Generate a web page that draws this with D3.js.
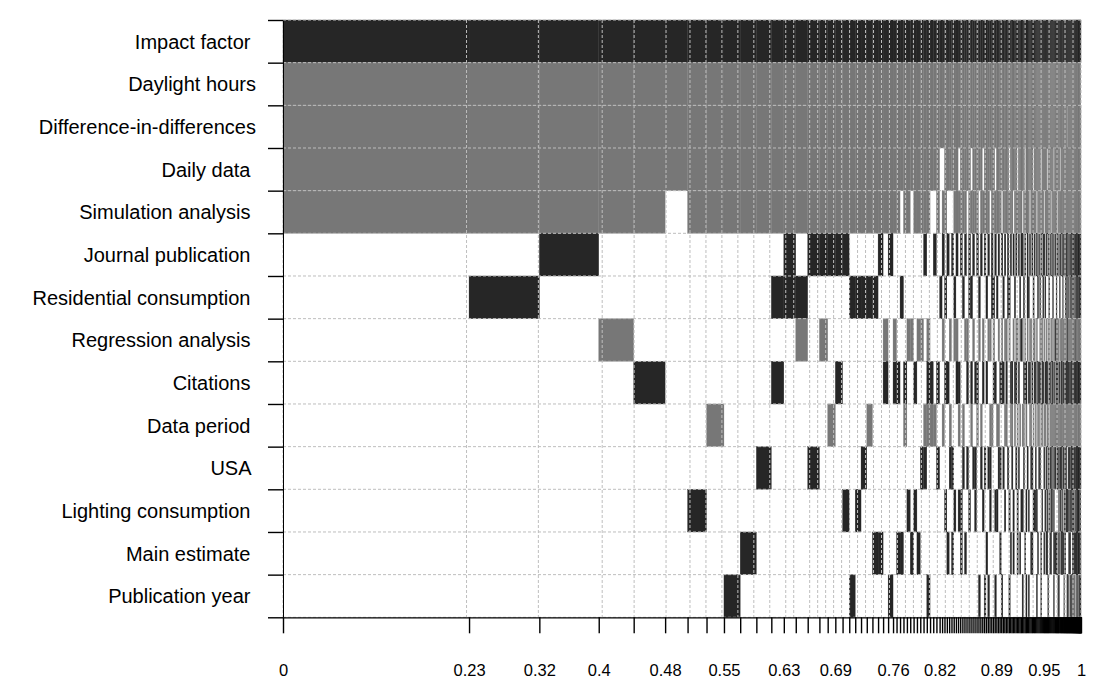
<!DOCTYPE html>
<html>
<head>
<meta charset="utf-8">
<script src="https://cdn.jsdelivr.net/npm/d3@7"></script>
<style>
  body { margin: 0; background: #fff; }
  svg text { font-family: "Liberation Sans", Arial, sans-serif; white-space: pre; }
</style>
</head>
<body>
<div id="vis"></div>
<script>
// variables, top to bottom (trailing spaces as in the original labels)
var variables = [
    "Impact factor ", "Daylight hours", "Difference-in-differences", "Daily data ",
    "Simulation analysis ", "Journal publication ", "Residential consumption ",
    "Regression analysis ", "Citations ", "Data period ", "USA ",
    "Lighting consumption ", "Main estimate ", "Publication year "
];

var tickLabels = ["0", "0.23", "0.32", "0.4", "0.48", "0.55", "0.63", "0.69", "0.76", "0.82", "0.89", "0.95", "1"];

// posterior model probabilities (percent), best model first
var pmp = [
    23.37, 8.83, 7.46, 4.39, 3.95, 2.82, 2.38, 2.19, 2.04, 2.03,
    1.88, 1.57, 1.50, 1.50, 1.47, 1.04, 0.96, 0.91, 0.84, 0.75,
    0.73, 0.72, 0.71, 0.71, 0.63, 0.63, 0.62,
    0.44, 0.44, 0.43, 0.43, 0.42, 0.42, 0.42, 0.42, 0.41, 0.41, 0.41, 0.40, 0.40, 0.40,
    0.31,
    0.30, 0.30, 0.29, 0.29, 0.28, 0.28, 0.27, 0.27, 0.27, 0.26,
    0.26, 0.26, 0.25, 0.25, 0.25, 0.25, 0.24, 0.24, 0.24, 0.23,
    0.23, 0.23, 0.22, 0.22, 0.22, 0.21, 0.21, 0.21, 0.20, 0.20,
    0.20, 0.19, 0.19, 0.19, 0.19,
    0.17, 0.17, 0.17, 0.17, 0.17, 0.17, 0.16, 0.16, 0.16, 0.16,
    0.16, 0.16, 0.15, 0.15, 0.15, 0.15, 0.15, 0.15, 0.15, 0.14,
    0.14, 0.14, 0.14, 0.14, 0.14,
    0.13, 0.13, 0.13, 0.13, 0.13, 0.13, 0.12, 0.12, 0.12, 0.12,
    0.12, 0.12, 0.12, 0.11, 0.11, 0.11, 0.11, 0.11, 0.11, 0.10,
    0.10, 0.10, 0.10, 0.10, 0.10,
    0.08, 0.08, 0.08, 0.08, 0.08, 0.07, 0.07, 0.07, 0.07, 0.07,
    0.07, 0.07, 0.07, 0.06, 0.06, 0.06, 0.06, 0.06, 0.06, 0.06,
    0.05, 0.05, 0.05, 0.05, 0.05,
    0.04, 0.04, 0.04, 0.04, 0.04, 0.04, 0.04, 0.04, 0.03, 0.03,
    0.03, 0.03, 0.03, 0.03, 0.03, 0.03, 0.03, 0.03, 0.03, 0.03
];

// inclusion per model, one char per variable: + positive, - negative, 0 not included
var models = [
    "+----000000000", "+----0+0000000", "+----+00000000", "+----00-000000", "+----000+00000",
    "+---0000000000", "+----000000+00", "+----0000-0000", "+----00000000+", "+----0000000+0",
    "+----00000+000", "+----0+0+00000", "+----++0000000", "+----0+-000000", "+----+0000+000",
    "+----+0-000000", "+----+000-0000", "+----+00+00000", "+----+00000+00", "+----0+000000+",
    "+----0+0000+00", "+----0+000+000", "+----0+00-0000", "+----0+00000+0", "+----+000000+0",
    "+----00-+00000", "+----+0000000+",
    "+----00-+00000", "+----000+000+0", "+---00+00000+0", "+----000+-0000", "+----00-000+00",
    "+---000-0000+0", "+----000+00+00", "+----00-0000+0", "+----00-00+000", "+----+000-+000",
    "+----00-+-000+", "+---0000+-0000", "+---0+000-0000", "+----000+0+000",
    "+--000+0000000",
    "+--0-+0-0-0000", "+----0+0+00+00", "+---0+00+000+0", "+---000-0-+000", "+---0+0000+0+0",
    "+----0+-000+00", "+----+0-+00000", "+--0-000+-0+00", "+----+00000++0", "+----0+00-+000",
    "+----+0-0000+0", "+---000-+0+000", "+----++0000+00", "+--0-0+0+-0000", "+----+0-00+000",
    "+----000+0++00", "+----+00+-0000", "+---00+-00000+", "+----+000-+000", "+--0-00-+00+00",
    "+----+0000+00+", "+----0+0+000+0", "+----+0-00+00+", "+---000-0-++00", "+----++00-0000",
    "+----0+-+00000", "+--0-+00+00+0+", "+----0+00-0+00", "+----+0-0-+000", "+----000+0+0+0",
    "+---0+0-+0000+", "+----0+0+0+000", "+----+0-0-0+00", "+----00-+-0000", "+----++000+000",
    "+--0-0+-000+0+", "+----+00+-00+0", "+----000+-+000", "+---0+0-000++0", "+----0+0+-0000",
    "+----+0-+0+000", "+--0-00-0-0++0", "+----+00+0+000", "+----0+-0-00+0", "+----+0+000+00",
    "+---0+0-0-0+0+", "+----0+0+-+000", "+--0-+0-+000+0", "+----000+-0+0+", "+----++-00+000",
    "+----0+0+00+0+", "+---0+0-+-0000", "+----00-0-+0+0", "+----+00+0+0+0", "+--0-0+-0-0+00",
    "+----+0-+00+00", "+----000+-++00", "+---0+0-000+0+", "+----0+0+-00+0", "+----+00+-+000",
    "+----0+-+0+000", "+--0-+0-0-00++", "+----00-+-0+00", "+----++0+00000", "+---0+0-0-+0+0",
    "+----0+0+-0+00", "+----+0-+0+0+0", "+--0-000+-0++0", "+----+0-0-+00+", "+----0+-+00+00",
    "+----+00+-+0+0", "+---000-0-+++0", "+----+0-+-0+00", "+----0+0+-+000", "+--0-+0-0-0+++",
    "+----00-+-+0+0", "+----+0+0-+0+0", "+----0+-+-00+0", "+---0+0-+-+000", "+----00-0-+0++",
    "+----+0-+-0+0+", "+----0+0+-+0+0", "+--0-+0-0-++00", "+----00-+-+0+0", "+----+0-+-0++0",
    "+----0+-0-+0+0", "+----+0-+-+0+0", "+----00-+-0+0+", "+----+0-0-+++0", "+----0+-+-+0+0",
    "+----++-+-0+00", "+----+0-+-++00", "+-0--0+-+-0+0+", "+----+0++-0+0+", "+----0+-+-++00",
    "+----+0-+-+0++", "+----00-+-+++0", "+----++-0-+0+0", "+----+0-+-0+++", "+----0+-+-++0+",
    "+----+0-+-++0+", "+----++-+-+000", "+----+0-0-++++", "+----0+-+-+++0", "+----+0-+-++-0",
    "+----++-0-0+++", "+----+0++-+0+0", "+----0+-+-+0++", "+----+0-+-+++0", "+----++-+-0++0",
    "+----+0-+-+0+-", "+----0+++-+0+0", "+----++-+-+0+0", "+----+0-+-++++", "+----++-0-+++0",
    "+----+0-+0++++", "+----++-+-++00", "+----0+-+-++++", "+0---+0-+-+0+0", "+----++-+-+0++",
    "+----+0-+-+++-", "+-0--++-0-+0+0", "+----++-+-+++0", "+----+0++-++0+", "+----++-+-0+++",
    "+----0+-+-+-++", "+----++-+-++0+", "+----++++-++0+", "+----++-+-++++", "+0---++-+-+0++"
];

var margin = { top: 20, left: 283 },
    width = 798,
    height = 597.3;

var svg = d3.select("#vis")
    .append("svg")
    .attr("width", 1116)
    .attr("height", 684);

var g = svg.append("g")
    .attr("transform", "translate(" + margin.left + "," + margin.top + ")");

// cumulative model probabilities, scaled to 1
var total = d3.sum(pmp);
var cum = [0];
pmp.forEach(p => cum.push(cum[cum.length - 1] + p / total));

var x = d3.scaleLinear().domain([0, 1]).range([0, width]);
var y = d3.scaleBand().domain(variables).range([0, height]);
var yEdge = d3.scaleLinear().domain([0, variables.length]).range([0, height]);

var fill = { "+": "#262626", "-": "#777777" };

var cells = [];
models.forEach((m, i) => {
    m.split("").forEach((c, j) => {
        if (c !== "0") cells.push({ i: i, v: variables[j], c: c });
    });
});

g.selectAll(".cell")
    .data(cells)
    .enter().append("rect")
    .attr("class", "cell")
    .attr("x", d => x(cum[d.i]))
    .attr("width", d => x(cum[d.i + 1]) - x(cum[d.i]))
    .attr("y", d => y(d.v))
    .attr("height", y.bandwidth())
    .attr("fill", d => fill[d.c])
    .attr("stroke", d => fill[d.c])
    .attr("stroke-width", 0.3);

// dotted grid at rounded cumulative probabilities and row edges
var gridX = Array.from(new Set(cum.map(c => Math.round(c * 100) / 100)));
g.selectAll(".vgrid")
    .data(gridX)
    .enter().append("line")
    .attr("class", "vgrid")
    .attr("x1", d => x(d)).attr("x2", d => x(d))
    .attr("y1", 0).attr("y2", height)
    .attr("stroke", "#bebebe")
    .attr("stroke-dasharray", "3,2");

g.selectAll(".hgrid")
    .data(d3.range(variables.length + 1))
    .enter().append("line")
    .attr("class", "hgrid")
    .attr("x1", 0).attr("x2", width)
    .attr("y1", d => yEdge(d)).attr("y2", d => yEdge(d))
    .attr("stroke", "#bebebe")
    .attr("stroke-dasharray", "3,2");

// x axis: a tick at every model boundary
var xAxis = g.append("g")
    .attr("transform", "translate(0," + height + ")")
    .call(d3.axisBottom(x).tickValues(cum).tickSize(16).tickSizeOuter(0).tickFormat(""));
xAxis.selectAll("line").attr("stroke", "#000").attr("stroke-width", 1.4);
xAxis.select(".domain").attr("stroke", "#000").attr("stroke-width", 1.2);

// labelled boundaries
var labelPos = tickLabels.map(t => {
    var v = +t;
    var cand = cum.filter(c => Math.round(c * 100) / 100 === v);
    return d3.least(cand, c => Math.abs(c - v - 0.003));
});
var xLab = g.append("g")
    .attr("transform", "translate(0," + height + ")")
    .call(d3.axisBottom(x).tickValues(labelPos).tickSize(0).tickPadding(46.5)
        .tickFormat((d, i) => tickLabels[i]));
xLab.select(".domain").remove();
xLab.attr("font-size", 16.5).attr("font-family", "Liberation Sans, Arial, sans-serif");
xLab.selectAll("text").attr("fill", "#000");

// y axis: ticks at row edges
var yAxis = g.append("g")
    .call(d3.axisLeft(yEdge).tickValues(d3.range(variables.length + 1))
        .tickSize(15).tickSizeOuter(0).tickFormat(""));
yAxis.selectAll("line").attr("stroke", "#000").attr("stroke-width", 1.4);
yAxis.select(".domain").attr("stroke", "#000");

g.selectAll(".rowlab")
    .data(variables)
    .enter().append("text")
    .attr("class", "rowlab")
    .attr("x", -27)
    .attr("y", d => y(d) + y.bandwidth() / 2 + 7.5)
    .attr("text-anchor", "end")
    .attr("font-size", 20)
    .attr("fill", "#000")
    .text(d => d);
</script>
</body>
</html>
